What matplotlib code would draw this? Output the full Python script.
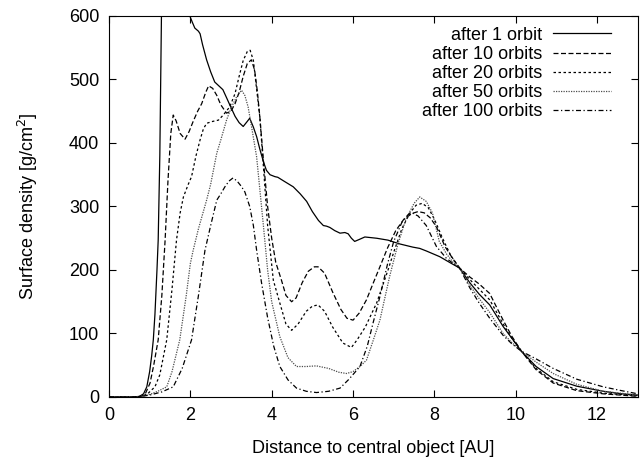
import matplotlib
matplotlib.use("Agg")
import matplotlib.pyplot as plt

plt.rcParams['font.family'] = ['Liberation Sans', 'DejaVu Sans']

# ---------- data --------------------------------------------------------------

x_1 = [0, 0.6, 0.75, 0.85, 0.93, 1.0, 1.05, 1.09, 1.13, 1.18, 1.21, 1.25, 1.29,
       1.32, 1.9, 1.97, 2.0, 2.05, 2.11, 2.2, 2.24, 2.3, 2.4, 2.5, 2.6, 2.7,
       2.8, 2.9, 2.97, 3.1, 3.2, 3.3, 3.4, 3.46, 3.55, 3.63, 3.71, 3.8, 3.87,
       3.96, 4.08, 4.15, 4.3, 4.53, 4.7, 4.86, 5.0, 5.15, 5.27, 5.35, 5.43,
       5.55, 5.68, 5.8, 5.88, 5.96, 6.04, 6.15, 6.29, 6.58, 6.86, 7.15, 7.47,
       7.64, 7.8, 8.13, 8.4, 8.62, 8.87, 9.1, 9.36, 9.69, 10.14, 10.5, 10.92,
       11.5, 12.15, 12.6, 13.0]
y_1 = [0, 0, 1, 5, 16, 40, 65, 90, 130, 200, 247, 380, 600,
       700, 700, 615, 598, 590, 581, 576, 572, 555, 531, 512, 496, 490,
       484, 470, 460, 442, 432, 426, 434, 439, 425, 410, 390, 370, 357,
       350, 347, 346, 340, 331, 320, 308, 292, 278, 270, 269, 267,
       262, 258, 259, 257, 250, 245, 248, 252, 250, 247, 241, 236,
       234, 230, 221, 211, 203, 180, 162, 145, 111, 72, 48, 29,
       17, 9, 5, 3]

x_10 = [0, 0.6, 0.8, 0.9, 1.01, 1.1, 1.21, 1.3, 1.38, 1.45, 1.52, 1.58, 1.65,
        1.75, 1.87, 1.97, 2.07, 2.18, 2.28, 2.38, 2.45, 2.55, 2.65, 2.75, 2.89,
        3.0, 3.1, 3.2, 3.3, 3.4, 3.5, 3.58, 3.65, 3.71, 3.8, 3.9, 4.0, 4.1,
        4.24, 4.35, 4.49, 4.6, 4.75, 4.9, 5.05, 5.14, 5.3, 5.5, 5.7, 5.85, 6.0,
        6.15, 6.33, 6.5, 6.66, 6.85, 7.05, 7.25, 7.45, 7.6, 7.75, 7.9, 8.05,
        8.26, 8.45, 8.62, 8.87, 9.1, 9.36, 9.5, 9.69, 9.9, 10.14, 10.5, 10.92,
        11.5, 12.15, 13.0]
y_10 = [0, 0, 1, 6, 22, 50, 90, 160, 247, 340, 415, 444, 435,
        415, 406, 418, 434, 450, 462, 480, 490, 486, 475, 460, 447,
        450, 462, 480, 505, 525, 531, 515, 480, 440, 370, 300, 250, 212,
        184, 160, 150, 156, 180, 198, 205, 205, 195, 165, 138, 124, 121,
        132, 153, 180, 205, 235, 262, 280, 289, 292, 290, 282, 268,
        237, 218, 203, 189, 178, 163, 145, 121, 96, 72, 43, 22,
        10, 5, 1]

x_20 = [0, 0.6, 0.8, 0.95, 1.13, 1.25, 1.42, 1.55, 1.66, 1.75, 1.83, 1.95,
        2.03, 2.14, 2.24, 2.32, 2.4, 2.55, 2.69, 2.81, 2.97, 3.1, 3.2, 3.3,
        3.4, 3.47, 3.55, 3.62, 3.71, 3.8, 3.9, 4.04, 4.2, 4.35, 4.49, 4.65,
        4.85, 5.0, 5.14, 5.3, 5.5, 5.75, 5.96, 6.1, 6.3, 6.58, 6.86, 7.0, 7.2,
        7.4, 7.55, 7.7, 7.85, 8.0, 8.2, 8.4, 8.62, 8.87, 9.1, 9.36, 9.69, 9.9,
        10.14, 10.5, 10.92, 11.5, 12.15, 13.0]
y_20 = [0, 0, 1, 5, 16, 35, 90, 170, 247, 290, 315, 335,
        347, 380, 405, 422, 431, 434, 436, 444, 457, 478, 505, 530,
        544, 546, 530, 490, 440, 360, 270, 184, 148, 115, 105, 115,
        135, 143, 145, 135, 110, 85, 78, 90, 110, 148, 200, 228, 265,
        290, 302, 305, 298, 280, 250, 223, 203, 185, 170, 153, 115, 93,
        72, 45, 24, 12, 6, 2]

x_50 = [0, 0.6, 0.8, 1.0, 1.2, 1.42, 1.55, 1.74, 1.9, 2.0, 2.07, 2.2, 2.4,
        2.5, 2.65, 2.75, 2.89, 3.0, 3.14, 3.26, 3.34, 3.42, 3.52, 3.63, 3.79,
        3.9, 4.0, 4.2, 4.4, 4.61, 4.85, 5.1, 5.4, 5.65, 5.84, 6.0, 6.17, 6.33,
        6.5, 6.66, 6.9, 7.1, 7.3, 7.5, 7.64, 7.8, 7.95, 8.12, 8.3, 8.45, 8.62,
        8.87, 9.1, 9.36, 9.69, 9.9, 10.14, 10.5, 10.92, 11.5, 12.15, 13.0]
y_50 = [0, 0, 1, 4, 9, 16, 40, 90, 160, 210, 231, 265, 310,
        335, 384, 405, 436, 455, 473, 483, 475, 457, 420, 378, 274,
        200, 150, 95, 62, 48, 48, 49, 45, 39, 37, 40, 48, 58,
        90, 121, 190, 240, 280, 305, 315, 308, 290, 245, 225, 213, 203,
        176, 155, 133, 100, 86, 72, 55, 37, 20, 9, 3]

x_100 = [0, 0.6, 0.8, 1.0, 1.3, 1.58, 1.8, 2.03, 2.2, 2.36, 2.5, 2.65, 2.75,
         2.85, 2.95, 3.05, 3.15, 3.25, 3.34, 3.46, 3.55, 3.63, 3.75, 3.9, 4.05,
         4.2, 4.4, 4.61, 4.85, 5.1, 5.4, 5.68, 5.9, 6.17, 6.35, 6.49, 6.66,
         6.85, 7.0, 7.2, 7.35, 7.45, 7.6, 7.8, 8.05, 8.3, 8.62, 8.87, 9.1, 9.36,
         9.69, 9.9, 10.14, 10.5, 10.92, 11.5, 12.15, 12.6, 13.0]
y_100 = [0, 0, 1, 3, 8, 16, 45, 90, 160, 231, 270, 310, 320,
         331, 340, 345, 340, 332, 323, 300, 270, 231, 180, 125, 80,
         48, 27, 14, 9, 7, 9, 14, 28, 48, 80, 116, 158,
         210, 245, 275, 287, 290, 285, 270, 237, 218, 203, 172, 148, 124,
         97, 84, 72, 60, 45, 28, 16, 10, 5]

labels = ["after 1 orbit", "after 10 orbits", "after 20 orbits",
          "after 50 orbits", "after 100 orbits"]

# ---------- plot ----------------------------------------------------------------

fig = plt.figure(figsize=(6.41, 4.62), dpi=100)
ax = fig.add_axes([0.170, 0.1407, 0.825, 0.8247])

lw = 0.9
ax.plot(x_1, y_1, color='black', lw=lw, ls='-', label=labels[0])
ax.plot(x_10, y_10, color='black', lw=lw, ls=(0, (4, 2)), label=labels[1])
ax.plot(x_20, y_20, color='black', lw=lw, ls=(0, (2, 2)), label=labels[2])
ax.plot(x_50, y_50, color='0.3', lw=lw, ls=(0, (1, 1)), label=labels[3])
ax.plot(x_100, y_100, color='black', lw=lw, ls=(0, (4, 2, 1, 2)), label=labels[4])

ax.set_xlim(0, 13)
ax.set_ylim(0, 600)
ax.set_xticks(range(0, 13, 2))
ax.set_yticks(range(0, 601, 100))
ax.tick_params(direction='in', length=5, top=True, right=True,
               labelsize=13, pad=7)

ax.set_xlabel('Distance to central object [AU]', fontsize=13, va='center')
ax.set_ylabel('Surface density [g/cm$^2$]', fontsize=13, va='center')
ax.xaxis.set_label_coords(0.5, -0.134)
ax.yaxis.set_label_coords(-0.153, 0.5)

ax.legend(loc='upper right', frameon=False, markerfirst=False, fontsize=13,
          handlelength=3.2, labelspacing=0.12, handletextpad=0.6,
          borderaxespad=0.2, bbox_to_anchor=(0.97, 1.0))

fig.savefig('out.png', dpi=100)
